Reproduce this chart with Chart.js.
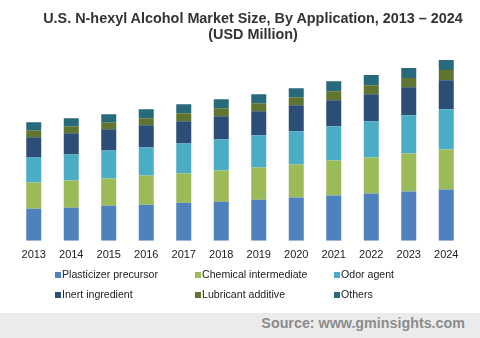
<!DOCTYPE html>
<html lang="en">
<head>
    <meta charset="UTF-8">
    <title>U.S. N-hexyl Alcohol Market Size</title>
    <script src="https://cdn.jsdelivr.net/npm/chart.js@4"></script>
    <style>
        html, body { margin: 0; padding: 0; background: #fff; }
        #wrap { position: relative; width: 480px; height: 313px; }
        #titolo {
            position: absolute; left: 0; top: 10px; width: 480px; box-sizing: border-box;
            padding-left: 26px; text-align: center;
            font: bold 14.4px "Liberation Sans", Arial, sans-serif; color: #333; line-height: 16px;
        }
        #footer {
            width: 480px; height: 25px; background: #ebebeb;
            font: bold 14.3px "Liberation Sans", Arial, sans-serif; color: #8c8c8c;
            text-align: right; box-sizing: border-box; padding-right: 15px; line-height: 21px;
        }
    </style>
</head>
<body>
    <div id="wrap">
        <canvas id="grafico"></canvas>
        <div id="titolo">U.S. N-hexyl Alcohol Market Size, By Application, 2013 &ndash; 2024<br>(USD Million)</div>
    </div>
    <div id="footer">Source: www.gminsights.com</div>

<script>
    // anni sull'asse x
    var anni = ['2013','2014','2015','2016','2017','2018','2019','2020','2021','2022','2023','2024'];

    // valori per applicazione (USD Million, stimati)
    var plasticizer = [32, 33, 35, 36, 38, 39, 41, 43, 45, 47, 49, 51];
    var chemical    = [26, 27, 27, 29, 29, 31, 32, 33, 35, 36, 38, 40];
    var odor        = [25, 26, 28, 28, 30, 31, 32, 33, 34, 36, 38, 40];
    var inert       = [20, 21, 21, 22, 22, 23, 24, 26, 26, 27, 28, 29];
    var lubricant   = [7, 7, 7, 7, 8, 8, 8, 8, 9, 9, 9, 10];
    var others      = [8, 8, 8, 9, 9, 9, 9, 9, 10, 10, 10, 10];

    var nomi = ['Plasticizer precursor', 'Chemical intermediate', 'Odor agent',
                'Inert ingredient', 'Lubricant additive', 'Others'];
    var colori = ['#4f81bd', '#9bbb59', '#4bacc6', '#2c4d75', '#5f7530', '#276a7c'];
    var serie = [plasticizer, chemical, odor, inert, lubricant, others];

    var font = '"Liberation Sans", Arial, sans-serif';

    // legenda disegnata a mano su tre colonne
    var legendaColonne = {
        id: 'legendaColonne',
        afterDraw: function(chart) {
            var ctx = chart.ctx;
            var colX = [55, 195, 334];
            var rowY = [275, 295];
            ctx.save();
            ctx.font = '10.6px ' + font;
            ctx.textBaseline = 'middle';
            chart.data.datasets.forEach(function(ds, i) {
                var x = colX[i % 3];
                var y = rowY[Math.floor(i / 3)];
                ctx.fillStyle = ds.backgroundColor;
                ctx.fillRect(x, y - 3, 6, 6);
                ctx.fillStyle = '#222';
                ctx.fillText(ds.label, x + 7, y);
            });
            ctx.restore();
        }
    };

    var data = {
        labels: anni,
        datasets: serie.map(function(valori, i) {
            return {
                label: nomi[i],
                data: valori,
                backgroundColor: colori[i],
                borderWidth: 0,
                barPercentage: 0.4,
                categoryPercentage: 1.0
            };
        })
    };

    var options = {
        responsive: true,
        maintainAspectRatio: false,
        animation: false,
        layout: { padding: { left: 15, right: 15, top: 50, bottom: 51 } },
        plugins: {
            legend: { display: false },
            tooltip: { enabled: false },
            title: { display: false }
        },
        scales: {
            x: {
                stacked: true,
                grid: { display: false },
                border: { display: false },
                ticks: { color: '#222', font: { family: font, size: 11 }, padding: 0 }
            },
            y: {
                stacked: true,
                display: false,
                min: 0,
                max: 190
            }
        }
    };

    new Chart('grafico', {
        type: 'bar',
        data: data,
        options: options,
        plugins: [legendaColonne]
    });
</script>
</body>
</html>
